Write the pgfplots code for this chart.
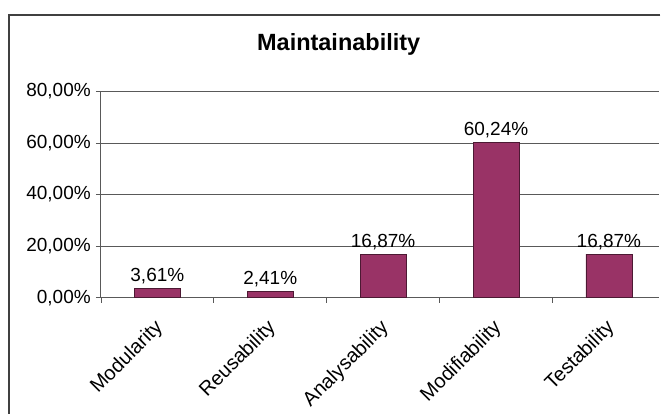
\documentclass[border=0pt]{standalone}
\usepackage{pgfplots}
\pgfplotsset{compat=1.18}
\usepackage{fontspec}
\setmainfont{Liberation Sans}
\definecolor{barc}{HTML}{993366}
\begin{document}
\begin{tikzpicture}[x=1pt,y=1pt]
\path[fill=white] (0,0) rectangle (661,-414);
\draw[line width=1.3pt, black!75] (661,-15) -- (9,-15) -- (9,-414);
\node[font=\fontsize{23.5}{25}\selectfont\bfseries] at (339,-44) {Maintainability};
\begin{axis}[at={(101pt,-298pt)}, anchor=south west, scale only axis,
  width=559pt, height=206.5pt,
  xmin=-0.5, xmax=4.447, ymin=0, ymax=80,
  axis x line*=bottom, axis y line*=left,
  axis line style={draw=black!65, line width=0.9pt},
  ybar, bar width=46pt,
  xtick={0,1,2,3,4},
  xticklabels={Modularity,Reusability,Analysability,Modifiability,Testability},
  major x tick style={draw=none},
  minor xtick={-0.5,0.5,1.5,2.5,3.5},
  minor x tick style={draw=black!65, line width=0.8pt},
  minor tick length=5pt,
  ytick={0,20,40,60,80},
  yticklabels={{0,00\%},{20,00\%},{40,00\%},{60,00\%},{80,00\%}},
  major y tick style={draw=black!65, line width=0.8pt},
  major tick length=5pt,
  tick align=outside,
  ymajorgrids, major grid style={draw=black!65, line width=0.9pt},
  xticklabel style={font=\fontsize{20}{22}\selectfont, rotate=45, anchor=north east, inner sep=2pt, yshift=-6pt, xshift=-12pt},
  yticklabel style={font=\fontsize{19}{21}\selectfont, inner sep=3pt, xshift=-2pt},
  point meta=explicit symbolic,
  nodes near coords,
  nodes near coords style={font=\fontsize{19}{21}\selectfont, inner sep=4pt, black},
]
\addplot[fill=barc, draw=black!50!barc, line width=0.6pt] coordinates {
  (0,3.61) [{3,61\%}]
  (1,2.41) [{2,41\%}]
  (2,16.87) [{16,87\%}]
  (3,60.24) [{60,24\%}]
  (4,16.87) [{16,87\%}]
};
\end{axis}
\end{tikzpicture}
\end{document}
